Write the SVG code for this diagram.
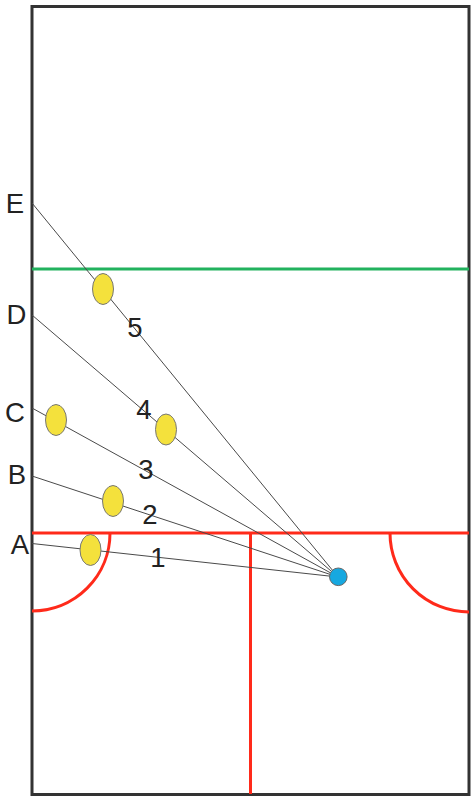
<svg xmlns="http://www.w3.org/2000/svg" width="475" height="800" viewBox="0 0 475 800">
<style>
.red{stroke:#ff2a1a;stroke-width:3;fill:none}
.ray{stroke:#4a4a4a;stroke-width:1;fill:none}
.ball{fill:#f4e13c;stroke:#777;stroke-width:1}
.lbl{font-family:"Liberation Sans",Arial,sans-serif;font-size:27.5px;fill:#222;text-anchor:middle}
</style>
<rect x="0" y="0" width="475" height="800" fill="#fff"/>
<g id="court">
<rect x="32" y="6.5" width="437" height="788" fill="#fff" stroke="#333" stroke-width="3"/>
<line x1="32" y1="269" x2="469" y2="269" stroke="#22b25e" stroke-width="3"/>
<line class="red" x1="32" y1="533" x2="469" y2="533"/>
<line class="red" x1="250.5" y1="533" x2="250.5" y2="794"/>
<path class="red" d="M110 533 A78 78 0 0 1 32 611"/>
<path class="red" d="M390 533 A79 79 0 0 0 469 612"/>
</g>
<g id="connectors">
<line class="ray" x1="32" y1="203" x2="338" y2="577"/>
<line class="ray" x1="32" y1="315" x2="338" y2="577"/>
<line class="ray" x1="32" y1="408" x2="338" y2="577"/>
<line class="ray" x1="32" y1="476" x2="338" y2="577"/>
<line class="ray" x1="32" y1="543.5" x2="338" y2="577"/>
</g>
<g id="player"><circle cx="338.3" cy="576.8" r="8.8" fill="#16a8e0" stroke="#666" stroke-width="1"/></g>
<g id="ball5"><ellipse class="ball" cx="103" cy="289" rx="10.5" ry="15.5"/></g>
<g id="ball4"><ellipse class="ball" cx="166" cy="429.5" rx="10.5" ry="15.5"/></g>
<g id="ballC"><ellipse class="ball" cx="56" cy="420" rx="10.5" ry="15.5"/></g>
<g id="ball2"><ellipse class="ball" cx="113" cy="501" rx="10.5" ry="15.5"/></g>
<g id="ball1"><ellipse class="ball" cx="90.5" cy="550" rx="10.5" ry="15.5"/></g>
<g id="labels">
<text class="lbl" x="15" y="213">E</text>
<text class="lbl" x="16.5" y="324">D</text>
<text class="lbl" x="15" y="421.5">C</text>
<text class="lbl" x="17" y="484">B</text>
<text class="lbl" x="20" y="554">A</text>
<text class="lbl" x="135" y="337">5</text>
<text class="lbl" x="144" y="419">4</text>
<text class="lbl" x="146" y="479">3</text>
<text class="lbl" x="150" y="524">2</text>
<text class="lbl" x="158" y="567">1</text>
</g>
</svg>
